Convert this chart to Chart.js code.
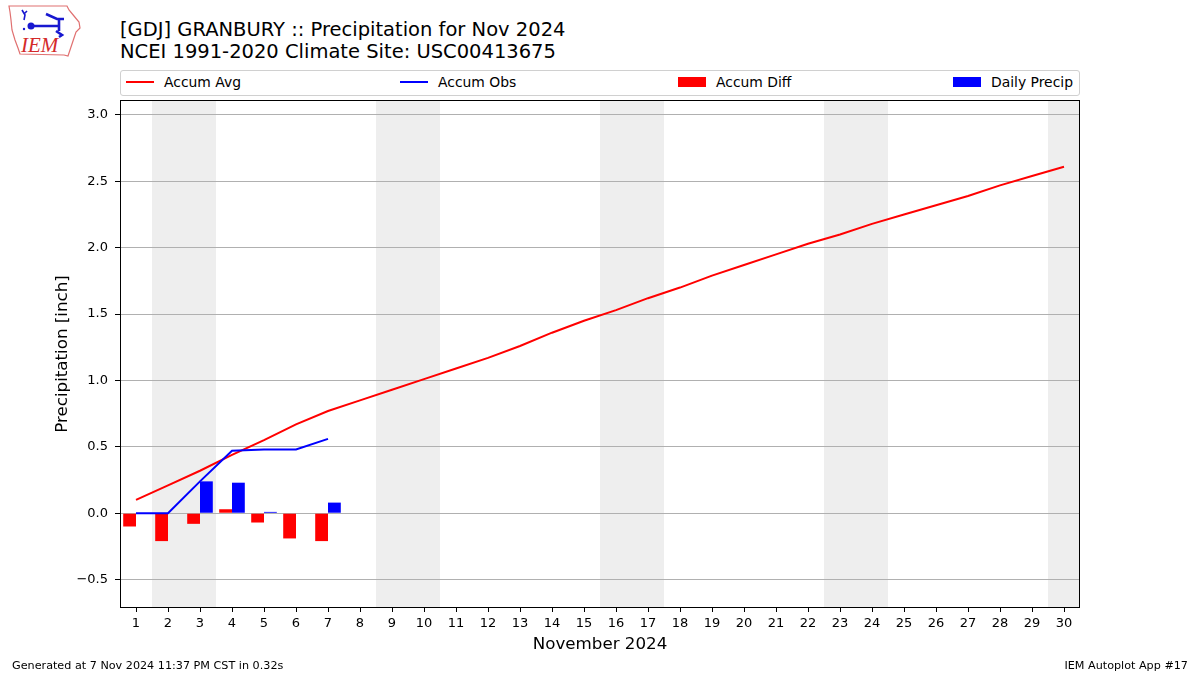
<!DOCTYPE html>
<html>
<head>
<meta charset="utf-8">
<script src="https://cdn.jsdelivr.net/npm/chart.js@4/dist/chart.umd.min.js"></script>
<style>
  html, body { margin: 0; padding: 0; background: #fff; }
  body { width: 1200px; height: 675px; position: relative; overflow: hidden; font-family: "DejaVu Sans", sans-serif; color: #000; }
  #chart { position: absolute; left: 0; top: 0; }
  .title { position: absolute; left: 120px; font-size: 19.5px; line-height: 21px; white-space: nowrap; }
  .legend { position: absolute; left: 120px; top: 70px; width: 958px; height: 24px; border: 1px solid #d0d0d0; border-radius: 3px; font-size: 13.9px; }
  .legend .item { position: absolute; top: 0; height: 24px; line-height: 22px; white-space: nowrap; }
  .legend .swatch { position: absolute; top: 10px; width: 28px; height: 2px; }
  .legend .patch { position: absolute; top: 6px; width: 28px; height: 10px; }
  .legend .lbl { position: absolute; left: 38px; top: 0; }
  .foot { position: absolute; top: 659px; font-size: 11.2px; white-space: nowrap; }
</style>
</head>
<body>
<svg style="position:absolute;left:0;top:0" width="90" height="62" viewBox="0 0 90 62">
  <path d="M9 6 L67 6 L69 10 L74 16 L79 22 L80 28 L76 32 L74 38 L72 44 L70 50 L68 56 L64 55 L20 54 L18 48 L15 40 L12 30 L11 20 L10 12 Z" fill="none" stroke="#e07070" stroke-width="1.2"/>
  <path d="M22 10 L25 15 L24 20 M27 11 L24 14" fill="none" stroke="#1818d0" stroke-width="1.6"/>
  <path d="M30 26 L60 26 M46 14 L57 19 L64 19 M59 19 L59 31 M56 31 L62 35 L59 37" fill="none" stroke="#1818d0" stroke-width="2.6"/>
  <circle cx="31" cy="26" r="3.5" fill="#1818d0"/>
  <circle cx="24" cy="29" r="1.2" fill="#1818d0"/>
  <text x="21" y="52" font-family="Liberation Serif, serif" font-style="italic" font-size="21" fill="#d42a2a">IEM</text>
</svg>
<div class="title" style="top:19px">[GDJ] GRANBURY :: Precipitation for Nov 2024</div>
<div class="title" style="top:41px">NCEI 1991-2020 Climate Site: USC00413675</div>
<div class="legend">
  <div class="item" style="left:5px"><div class="swatch" style="background:#ff0000"></div><span class="lbl">Accum Avg</span></div>
  <div class="item" style="left:279px"><div class="swatch" style="background:#0000ff"></div><span class="lbl">Accum Obs</span></div>
  <div class="item" style="left:557px"><div class="patch" style="background:#ff0000"></div><span class="lbl">Accum Diff</span></div>
  <div class="item" style="left:832px"><div class="patch" style="background:#0000ff"></div><span class="lbl">Daily Precip</span></div>
</div>
<canvas id="chart" width="1200" height="675"></canvas>
<div class="foot" style="left:12px">Generated at 7 Nov 2024 11:37 PM CST in 0.32s</div>
<div class="foot" style="right:12px">IEM Autoplot App #17</div>
<script>
// days of November 2024
const days = [1, 2, 3, 4, 5, 6, 7, 8, 9, 10, 11, 12, 13, 14, 15, 16, 17, 18, 19, 20, 21, 22, 23, 24, 25, 26, 27, 28, 29, 30];
// climatology accumulated average
const accumAvg = [0.10, 0.21, 0.32, 0.44, 0.55, 0.67, 0.77, 0.85, 0.93, 1.01, 1.09, 1.17, 1.26, 1.36, 1.45,
                  1.53, 1.62, 1.70, 1.79, 1.87, 1.95, 2.03, 2.10, 2.18, 2.25, 2.32, 2.39, 2.47, 2.54, 2.61];
// observed so far
const obsDays = [1, 2, 3, 4, 5, 6, 7];
const accumObs = [0.00, 0.00, 0.24, 0.47, 0.48, 0.48, 0.56];
const accumDiff = [-0.10, -0.21, -0.08, 0.03, -0.07, -0.19, -0.21];
const dailyPrecip = [0.00, 0.00, 0.24, 0.23, 0.01, 0.00, 0.08];
// weekends (sat/sun spans)
const weekends = [[1.5, 3.5], [8.5, 10.5], [15.5, 17.5], [22.5, 24.5], [29.5, 30.5]];
const yTicks = [-0.5, 0.0, 0.5, 1.0, 1.5, 2.0, 2.5, 3.0];

const FONT = "'DejaVu Sans', sans-serif";

const pts = (xs, ys) => xs.map((x, i) => ({ x: x, y: ys[i] }));

// grey weekend bands + axes frame
const framePlugin = {
    id: 'frame',
    beforeDraw(chart) {
        const { ctx, chartArea, scales } = chart;
        ctx.save();
        ctx.fillStyle = '#eeeeee';
        weekends.forEach(([a, b]) => {
            const x0 = scales.x.getPixelForValue(a);
            const x1 = scales.x.getPixelForValue(b);
            ctx.fillRect(x0, chartArea.top, x1 - x0, chartArea.bottom - chartArea.top);
        });
        ctx.restore();
    },
    afterDraw(chart) {
        const { ctx, chartArea } = chart;
        ctx.save();
        ctx.strokeStyle = '#000';
        ctx.lineWidth = 1;
        ctx.strokeRect(Math.round(chartArea.left) + 0.5, Math.round(chartArea.top) + 0.5,
            Math.round(chartArea.right - chartArea.left) - 1, Math.round(chartArea.bottom - chartArea.top) - 1);
        ctx.restore();
    }
};

new Chart(document.getElementById('chart'), {
    type: 'bar',
    data: {
        datasets: [
            {
                type: 'line', label: 'Accum Avg', data: pts(days, accumAvg),
                borderColor: '#ff0000', borderWidth: 2, pointRadius: 0, tension: 0, order: 1
            },
            {
                type: 'line', label: 'Accum Obs', data: pts(obsDays, accumObs),
                borderColor: '#0000ff', borderWidth: 2, pointRadius: 0, tension: 0, order: 0
            },
            {
                label: 'Accum Diff', data: pts(obsDays, accumDiff),
                backgroundColor: '#ff0000', borderWidth: 0, order: 2,
                categoryPercentage: 0.8, barPercentage: 1.0
            },
            {
                label: 'Daily Precip', data: pts(obsDays, dailyPrecip),
                backgroundColor: '#0000ff', borderWidth: 0, order: 2,
                categoryPercentage: 0.8, barPercentage: 1.0
            }
        ]
    },
    options: {
        responsive: false,
        animation: false,
        layout: { padding: { left: 48, top: 100, right: 120, bottom: 18 } },
        plugins: {
            legend: { display: false },
            tooltip: { enabled: false }
        },
        scales: {
            x: {
                type: 'linear',
                min: 0.5,
                max: 30.5,
                offset: false,
                afterBuildTicks: (s) => { s.ticks = days.map(d => ({ value: d })); },
                afterFit: (s) => { s.height = 49; },
                ticks: { color: '#000', font: { family: FONT, size: 13 }, padding: 4, maxRotation: 0, autoSkip: false },
                grid: { offset: false, drawOnChartArea: false, tickColor: '#000', tickLength: 4 },
                border: { display: false },
                title: { display: true, text: 'November 2024', color: '#000', font: { family: FONT, size: 16.7 }, padding: { top: 0, bottom: 2 } }
            },
            y: {
                min: -0.714,
                max: 3.113,
                afterBuildTicks: (s) => { s.ticks = yTicks.map(v => ({ value: v })); },
                afterFit: (s) => { s.width = 72; },
                ticks: {
                    color: '#000', font: { family: FONT, size: 13 }, padding: 7,
                    callback: (v) => v.toFixed(1).replace('-', '\u2212')
                },
                grid: { color: '#b0b0b0', tickColor: '#000', tickLength: 5 },
                border: { display: false },
                title: { display: true, text: 'Precipitation [inch]', color: '#000', font: { family: FONT, size: 16.7 }, padding: { top: 5, bottom: 0 } }
            }
        }
    },
    plugins: [framePlugin]
});
</script>
</body>
</html>
